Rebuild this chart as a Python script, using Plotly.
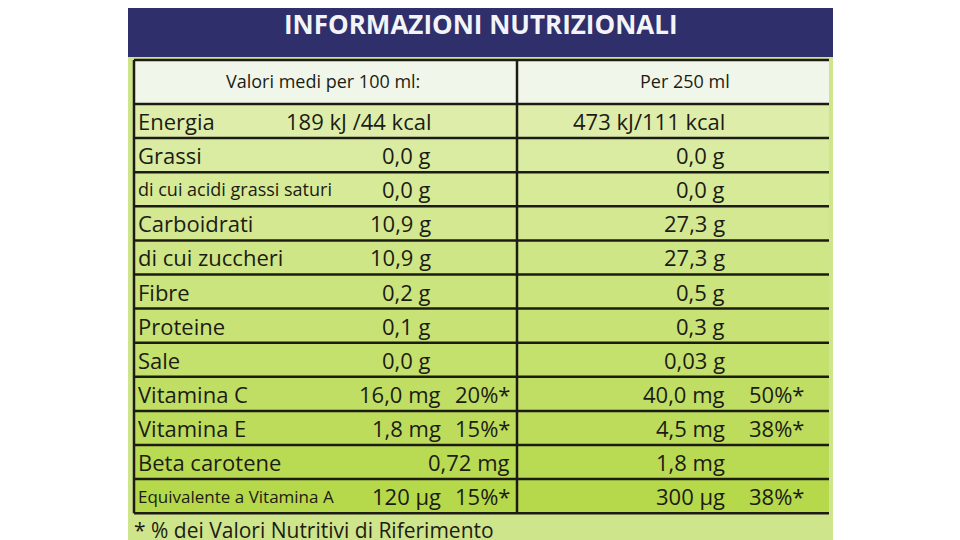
import plotly.graph_objects as go

title = "INFORMAZIONI NUTRIZIONALI"
head_100 = "Valori medi per 100 ml:"
head_250 = "Per 250 ml"
labels = ["Energia", "Grassi", "di cui acidi grassi saturi", "Carboidrati", "di cui zuccheri",
          "Fibre", "Proteine", "Sale", "Vitamina C", "Vitamina E", "Beta carotene",
          "Equivalente a Vitamina A"]
val_100 = ["189 kJ /44 kcal", "0,0 g", "0,0 g", "10,9 g", "10,9 g", "0,2 g", "0,1 g", "0,0 g",
           "16,0 mg", "1,8 mg", "", "120 µg"]
pct_100 = ["", "", "", "", "", "", "", "", "20%*", "15%*", "0,72 mg", "15%*"]
val_250 = ["473 kJ/111 kcal", "0,0 g", "0,0 g", "27,3 g", "27,3 g", "0,5 g", "0,3 g", "0,03 g",
           "40,0 mg", "4,5 mg", "1,8 mg", "300 µg"]
pct_250 = ["", "", "", "", "", "", "", "", "50%*", "38%*", "", "38%*"]
footnote = "* % dei Valori Nutritivi di Riferimento"

L, R, MID = 128, 833, 517
top, rh = 104, 34.1
font = "Open Sans"
ink = "#1c1c14"

fig = go.Figure()
shapes, ann = [], []

# background and header
shapes.append(dict(type="rect", x0=L, x1=R, y0=-10, y1=560, fillcolor="#cfe58c", line_width=0, layer="below"))
shapes.append(dict(type="rect", x0=L, x1=R, y0=-10, y1=57, fillcolor="#2e2f6b", line_width=0, layer="below"))
shapes.append(dict(type="rect", x0=L + 6, x1=R - 4, y0=60, y1=top, fillcolor="#f1f6ea", line_width=0, layer="below"))
n = len(labels)
for i in range(n):
    t = i / (n - 1)
    r, g, b = int(222 - 40 * t), int(238 - 22 * t), int(170 - 95 * t)
    shapes.append(dict(type="rect", x0=L + 6, x1=R - 4, y0=top + i * rh, y1=top + (i + 1) * rh,
                       fillcolor=f"rgb({r},{g},{b})", line_width=0, layer="below"))
for i in range(n + 1):
    y = top + i * rh
    shapes.append(dict(type="line", x0=L + 6, x1=R - 4, y0=y, y1=y, line=dict(color=ink, width=2.5)))
shapes.append(dict(type="line", x0=L + 6, x1=R - 4, y0=60, y1=60, line=dict(color=ink, width=2.5)))
shapes.append(dict(type="line", x0=MID, x1=MID, y0=60, y1=top + n * rh, line=dict(color=ink, width=2.5)))
shapes.append(dict(type="line", x0=L + 6, x1=L + 6, y0=60, y1=top + n * rh, line=dict(color=ink, width=2.5)))

ann.append(dict(x=(L + R) / 2, y=24, text=f"<b>{title}</b>", font=dict(size=26, color="#f4f4f8", family=font)))
ann.append(dict(x=(L + MID) / 2, y=81, text=head_100, font=dict(size=18, color=ink, family=font)))
ann.append(dict(x=(MID + R) / 2 + 10, y=81, text=head_250, font=dict(size=18, color=ink, family=font)))

for i, lab in enumerate(labels):
    y = top + (i + 0.5) * rh
    size = 17 if len(lab) > 20 else 22
    if lab == "di cui acidi grassi saturi":
        size = 18
    ann.append(dict(x=L + 8, y=y, text=lab, xanchor="left", font=dict(size=size, color=ink, family=font)))
    if val_100[i]:
        xr = 433 if not pct_100[i] else 443
        ann.append(dict(x=xr, y=y, text=val_100[i], xanchor="right", font=dict(size=22, color=ink, family=font)))
    if pct_100[i]:
        ann.append(dict(x=512, y=y, text=pct_100[i], xanchor="right", font=dict(size=22, color=ink, family=font)))
    ann.append(dict(x=727, y=y, text=val_250[i], xanchor="right", font=dict(size=22, color=ink, family=font)))
    if pct_250[i]:
        ann.append(dict(x=806, y=y, text=pct_250[i], xanchor="right", font=dict(size=22, color=ink, family=font)))

ann.append(dict(x=L + 4, y=530, text=footnote, xanchor="left", font=dict(size=21, color=ink, family=font)))
for a in ann:
    a.update(xref="x", yref="y", showarrow=False)

fig.update_layout(
    width=960, height=540, margin=dict(l=0, r=0, t=0, b=0),
    paper_bgcolor="white", plot_bgcolor="white",
    xaxis=dict(range=[8, 968], visible=False, fixedrange=True),
    yaxis=dict(range=[548, 8], visible=False, fixedrange=True),
    shapes=shapes, annotations=ann, showlegend=False,
)
fig.write_html("out.html")
